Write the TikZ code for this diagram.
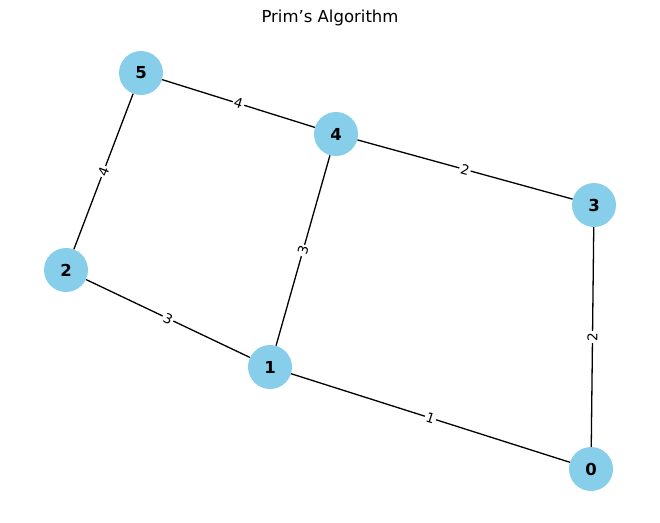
\documentclass[tikz,border=0pt]{standalone}
\usepackage{fontspec}
\setmainfont{DejaVu Sans}
\usepackage{xcolor}
\usepackage{tikz}
\usetikzlibrary{arrows.meta}
\usetikzlibrary{shapes,arrows,positioning}
\definecolor{skyblue}{HTML}{87CEEB}
\tikzset{>=latex}
\tikzset{
    vertex/.style={
        circle,
        fill=skyblue,
        minimum size=44pt,
        inner sep=0pt,
        font=\fontsize{16.5}{18}\selectfont\bfseries,
    },
    weight/.style={
        midway,
        sloped,
        fill=white,
        inner sep=1.5pt,
        font=\fontsize{13.5}{15}\selectfont,
    },
    link/.style={
        line width=1.3pt,
    },
}

\begin{document}
\begin{tikzpicture}[x=1pt,y=-1pt]
        \useasboundingbox (0,0) rectangle (660,522);
        \node[font=\fontsize{16.5}{18}\selectfont] (title) at (330,18) {Prim’s Algorithm};

        % vertices
        \node[vertex] (n0) at (591,469) {0};
        \node[vertex] (n1) at (270,367) {1};
        \node[vertex] (n2) at (66,270) {2};
        \node[vertex] (n3) at (594,205) {3};
        \node[vertex] (n4) at (336,134) {4};
        \node[vertex] (n5) at (141,73) {5};

        % edges
        \draw[link] (n5) -- (n4) node[weight] {4};
        \draw[link] (n4) -- (n3) node[weight] {2};
        \draw[link] (n5) -- (n2) node[weight] {4};
        \draw[link] (n4) -- (n1) node[weight] {3};
        \draw[link] (n2) -- (n1) node[weight] {3};
        \draw[link] (n1) -- (n0) node[weight] {1};
        \draw[link] (n3) -- (n0) node[weight] {2};
    \end{tikzpicture}
\end{document}
